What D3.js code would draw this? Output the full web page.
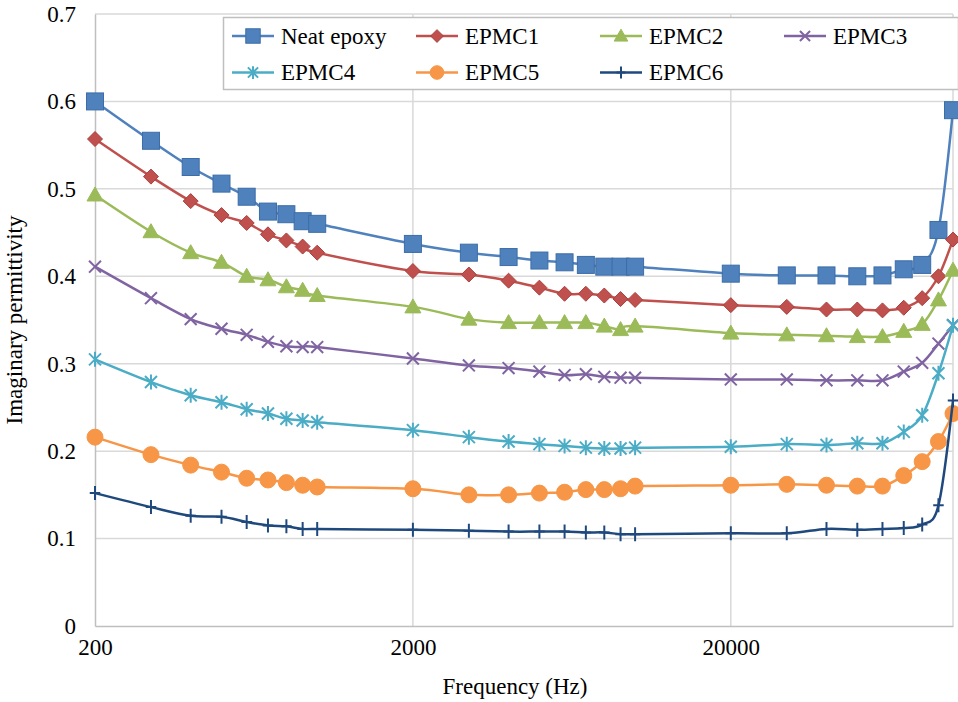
<!DOCTYPE html>
<html>
<head>
<meta charset="utf-8">
<script src="https://cdn.jsdelivr.net/npm/d3@7"></script>
<style>
  body { margin: 0; background: #fff; }
  svg { display: block; }
</style>
</head>
<body>
<svg width="958" height="702"></svg>
<script>
const serif = '"Liberation Serif", "Times New Roman", serif';

// frequencies (Hz)
const freqs = [200, 300, 400, 500, 600, 700, 800, 900, 1000,
  2000, 3000, 4000, 5000, 6000, 7000, 8000, 9000, 10000,
  20000, 30000, 40000, 50000, 60000, 70000, 80000, 90000, 100000];

const neatEpoxy = [0.600, 0.555, 0.525, 0.506, 0.491, 0.474, 0.471, 0.463, 0.460,
  0.437, 0.427, 0.422, 0.418, 0.416, 0.413, 0.411, 0.411, 0.411,
  0.403, 0.401, 0.401, 0.400, 0.401, 0.408, 0.413, 0.453, 0.590];
const epmc1 = [0.557, 0.514, 0.486, 0.470, 0.461, 0.448, 0.441, 0.434, 0.427,
  0.406, 0.402, 0.395, 0.387, 0.380, 0.380, 0.378, 0.374, 0.373,
  0.367, 0.365, 0.362, 0.362, 0.361, 0.364, 0.375, 0.400, 0.442];
const epmc2 = [0.493, 0.451, 0.427, 0.416, 0.400, 0.396, 0.388, 0.384, 0.378,
  0.365, 0.351, 0.347, 0.347, 0.347, 0.347, 0.343, 0.339, 0.343,
  0.335, 0.333, 0.332, 0.331, 0.331, 0.337, 0.345, 0.373, 0.407];
const epmc3 = [0.411, 0.375, 0.351, 0.340, 0.333, 0.325, 0.320, 0.319, 0.319,
  0.306, 0.298, 0.295, 0.291, 0.287, 0.288, 0.285, 0.284, 0.284,
  0.282, 0.282, 0.281, 0.281, 0.281, 0.291, 0.301, 0.323, 0.344];
const epmc4 = [0.305, 0.279, 0.264, 0.256, 0.248, 0.243, 0.237, 0.235, 0.233,
  0.224, 0.216, 0.211, 0.208, 0.206, 0.204, 0.203, 0.203, 0.204,
  0.205, 0.208, 0.207, 0.209, 0.209, 0.222, 0.241, 0.289, 0.344];
const epmc5 = [0.216, 0.196, 0.184, 0.176, 0.169, 0.167, 0.164, 0.161, 0.159,
  0.157, 0.150, 0.150, 0.152, 0.153, 0.156, 0.156, 0.157, 0.160,
  0.161, 0.162, 0.161, 0.160, 0.160, 0.172, 0.188, 0.211, 0.243];
const epmc6 = [0.152, 0.136, 0.126, 0.125, 0.119, 0.115, 0.114, 0.111, 0.111,
  0.110, 0.109, 0.108, 0.108, 0.108, 0.107, 0.107, 0.105, 0.105,
  0.106, 0.106, 0.111, 0.110, 0.111, 0.112, 0.116, 0.138, 0.258];

const seriesNames = ["Neat epoxy", "EPMC1", "EPMC2", "EPMC3", "EPMC4", "EPMC5", "EPMC6"];
const seriesValues = [neatEpoxy, epmc1, epmc2, epmc3, epmc4, epmc5, epmc6];
const colors = ["#4F81BD", "#C0504D", "#9BBB59", "#8064A2", "#4BACC6", "#F79646", "#1F497D"];
const markers = ["square", "diamond", "triangle", "x", "star", "circle", "plus"];
const yTicks = [0, 0.1, 0.2, 0.3, 0.4, 0.5, 0.6, 0.7];
const xTicks = [200, 2000, 20000];

const svg = d3.select('svg').attr('font-family', serif);
const margin = {top: 14, right: 5, bottom: 76, left: 95};
const width = +svg.attr('width');
const height = +svg.attr('height');
const innerWidth = width - margin.left - margin.right;
const innerHeight = height - margin.top - margin.bottom;

const xScale = d3.scaleLog().domain([200, 100000]).range([0, innerWidth]);
const yScale = d3.scaleLinear().domain([0, 0.7]).range([innerHeight, 0]);

const g = svg.append('g')
  .attr('transform', `translate(${margin.left}, ${margin.top})`);

// gridlines
g.append('g').selectAll('line').data(yTicks.slice(1))
  .enter().append('line')
    .attr('x1', 0).attr('x2', innerWidth)
    .attr('y1', d => yScale(d)).attr('y2', d => yScale(d))
    .attr('stroke', '#D9D9D9').attr('stroke-width', 1.5);
g.append('g').selectAll('line').data(xTicks.slice(1).concat([100000]))
  .enter().append('line')
    .attr('x1', d => xScale(d)).attr('x2', d => xScale(d))
    .attr('y1', 0).attr('y2', innerHeight)
    .attr('stroke', '#D9D9D9').attr('stroke-width', 1.5);

// axes
const yAxis = g.append('g')
  .call(d3.axisLeft(yScale).tickValues(yTicks).tickSize(0).tickPadding(19)
    .tickFormat(d => d === 0 ? '0' : d.toFixed(1)));
yAxis.attr('font-family', serif).attr('font-size', 23);
yAxis.selectAll('text').attr('fill', '#000');
yAxis.select('.domain').attr('stroke', '#BFBFBF').attr('stroke-width', 1.5);

const xAxis = g.append('g')
  .attr('transform', `translate(0, ${innerHeight})`)
  .call(d3.axisBottom(xScale).tickValues(xTicks).tickSize(0).tickPadding(13)
    .tickFormat(d3.format('d')));
xAxis.attr('font-family', serif).attr('font-size', 23);
xAxis.selectAll('text').attr('fill', '#000');
xAxis.select('.domain').attr('stroke', '#BFBFBF').attr('stroke-width', 1.5);

// axis titles
svg.append('text')
  .attr('x', 515).attr('y', 694)
  .attr('text-anchor', 'middle')
  .attr('font-size', 23)
  .text('Frequency (Hz)');
svg.append('text')
  .attr('transform', 'translate(22, 320) rotate(-90)')
  .attr('text-anchor', 'middle')
  .attr('font-size', 23)
  .text('Imaginary permittivity');

function drawMarker(sel, type, color, s) {
  if (type === 'square') {
    sel.append('rect').attr('x', -s).attr('y', -s).attr('width', 2 * s).attr('height', 2 * s)
      .attr('fill', color).attr('stroke', '#3C6DA8').attr('stroke-width', 1);
  } else if (type === 'diamond') {
    sel.append('path').attr('d', `M0,${-s}L${s},0L0,${s}L${-s},0Z`)
      .attr('fill', color).attr('stroke', '#A9403D').attr('stroke-width', 1);
  } else if (type === 'triangle') {
    sel.append('path').attr('d', `M0,${-s}L${s},${s * 0.75}L${-s},${s * 0.75}Z`)
      .attr('fill', color).attr('stroke', color).attr('stroke-width', 1);
  } else if (type === 'circle') {
    sel.append('circle').attr('r', s).attr('fill', color).attr('stroke', color);
  } else if (type === 'x') {
    const a = s * 0.85;
    sel.append('path').attr('d', `M${-a},${-a}L${a},${a}M${-a},${a}L${a},${-a}`)
      .attr('stroke', color).attr('stroke-width', 2).attr('fill', 'none');
  } else if (type === 'star') {
    const a = s * 0.8;
    sel.append('path').attr('d', `M${-a},${-a}L${a},${a}M${-a},${a}L${a},${-a}M0,${-s}L0,${s}`)
      .attr('stroke', color).attr('stroke-width', 2).attr('fill', 'none');
  } else if (type === 'plus') {
    sel.append('path').attr('d', `M${-s * 0.75},0L${s * 0.75},0M0,${-s}L0,${s}`)
      .attr('stroke', color).attr('stroke-width', 2).attr('fill', 'none');
  }
}
const markerSize = {square: 8.5, diamond: 7.5, triangle: 8, circle: 8, x: 7, star: 7.5, plus: 7};

const line = d3.line()
  .x(d => xScale(d.f))
  .y(d => yScale(d.v))
  .curve(d3.curveCatmullRom.alpha(0));

seriesValues.forEach((vals, i) => {
  const data = freqs.map((f, j) => ({f: f, v: vals[j]}));
  const sg = g.append('g');
  sg.append('path').datum(data)
    .attr('d', line)
    .attr('fill', 'none')
    .attr('stroke', colors[i])
    .attr('stroke-width', 2.5);
  sg.selectAll('g.m').data(data)
    .enter().append('g')
      .attr('class', 'm')
      .attr('transform', d => `translate(${xScale(d.f)}, ${yScale(d.v)})`)
      .each(function () { drawMarker(d3.select(this), markers[i], colors[i], markerSize[markers[i]]); });
});

// legend
const legend = svg.append('g');
legend.append('rect')
  .attr('x', 223.5).attr('y', 17.5).attr('width', 735).attr('height', 72)
  .attr('fill', '#fff').attr('stroke', '#BFBFBF').attr('stroke-width', 1.5);
const colX = [232, 416, 600, 784];
const rowY = [36, 72.5];
seriesNames.forEach((name, i) => {
  const lx = colX[i % 4];
  const ly = rowY[Math.floor(i / 4)];
  const item = legend.append('g').attr('transform', `translate(${lx}, ${ly})`);
  item.append('line').attr('x1', 0).attr('x2', 42).attr('y1', 0).attr('y2', 0)
    .attr('stroke', colors[i]).attr('stroke-width', 2.5);
  const mk = item.append('g').attr('transform', 'translate(21, 0)');
  drawMarker(mk, markers[i], colors[i], markerSize[markers[i]] * 0.85);
  item.append('text').attr('x', 49).attr('y', 0).attr('dy', '0.33em')
    .attr('font-size', 23).attr('fill', '#000')
    .text(name);
});
</script>
</body>
</html>
